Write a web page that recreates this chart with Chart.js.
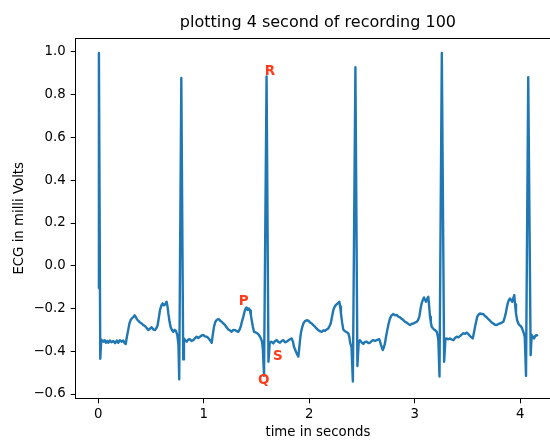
<!DOCTYPE html>
<html>
<head>
<meta charset="utf-8">
<script src="https://cdn.jsdelivr.net/npm/chart.js@4.4.0/dist/chart.umd.min.js"></script>
<style>
    html, body { margin: 0; padding: 0; background: #fff; overflow: hidden; }
    #wrap { width: 600px; height: 441px; }
</style>
</head>
<body>
<div id="wrap"><canvas id="ecgChart" width="600" height="441"></canvas></div>
<script>
const CHART_TITLE = 'plotting 4 second of recording 100';
const X_LABEL = 'time in seconds';
const Y_LABEL = 'ECG in milli Volts';

// [time in s, ECG in mV]
const ecgTrace = [
    [0.000, -0.106], [0.006, 0.995], [0.019, -0.435], [0.028, -0.345], [0.040, -0.352],
    [0.047, -0.355], [0.060, -0.348], [0.072, -0.360], [0.085, -0.352], [0.095, -0.360],
    [0.110, -0.350], [0.125, -0.358], [0.142, -0.352], [0.160, -0.362], [0.175, -0.350],
    [0.190, -0.360], [0.205, -0.348], [0.220, -0.355], [0.237, -0.350], [0.250, -0.362],
    [0.260, -0.366], [0.272, -0.330], [0.284, -0.300], [0.295, -0.270], [0.307, -0.254],
    [0.320, -0.245], [0.332, -0.240], [0.345, -0.232], [0.354, -0.238], [0.366, -0.250],
    [0.379, -0.257], [0.395, -0.265], [0.411, -0.270], [0.427, -0.278], [0.443, -0.282],
    [0.460, -0.292], [0.474, -0.301], [0.490, -0.294], [0.506, -0.288], [0.521, -0.298],
    [0.537, -0.301], [0.550, -0.292], [0.563, -0.277], [0.575, -0.240], [0.585, -0.207],
    [0.598, -0.185], [0.610, -0.176], [0.620, -0.185], [0.632, -0.182], [0.640, -0.175],
    [0.648, -0.168], [0.656, -0.190], [0.664, -0.223], [0.675, -0.260], [0.686, -0.288],
    [0.700, -0.302], [0.711, -0.309], [0.724, -0.300], [0.736, -0.305], [0.749, -0.324],
    [0.760, -0.370], [0.767, -0.531], [0.787, 0.878], [0.805, -0.438], [0.812, -0.340],

    [0.825, -0.350], [0.838, -0.355], [0.852, -0.345], [0.869, -0.344], [0.885, -0.352],
    [0.900, -0.348], [0.915, -0.340], [0.933, -0.332], [0.948, -0.338], [0.964, -0.332],
    [0.980, -0.326], [0.995, -0.324], [1.010, -0.330], [1.027, -0.332], [1.043, -0.338],
    [1.059, -0.348], [1.075, -0.360], [1.086, -0.320], [1.097, -0.285], [1.110, -0.262],
    [1.122, -0.254], [1.135, -0.250], [1.147, -0.251], [1.158, -0.258], [1.170, -0.262],
    [1.185, -0.270], [1.201, -0.277], [1.216, -0.288], [1.232, -0.298], [1.248, -0.302],
    [1.264, -0.309], [1.280, -0.300], [1.296, -0.301], [1.312, -0.306], [1.327, -0.309],
    [1.340, -0.298], [1.350, -0.285], [1.362, -0.260], [1.375, -0.238], [1.386, -0.215],
    [1.397, -0.199], [1.406, -0.195], [1.416, -0.207], [1.428, -0.200], [1.438, -0.210],
    [1.446, -0.230], [1.454, -0.254], [1.465, -0.285], [1.476, -0.309], [1.492, -0.312],
    [1.507, -0.316], [1.520, -0.322], [1.533, -0.332], [1.543, -0.342], [1.552, -0.355],
    [1.560, -0.390], [1.571, -0.515], [1.595, 0.886], [1.613, -0.449], [1.625, -0.360],

    [1.640, -0.355], [1.659, -0.363], [1.675, -0.352], [1.691, -0.348], [1.706, -0.356],
    [1.722, -0.360], [1.738, -0.352], [1.754, -0.348], [1.770, -0.358], [1.786, -0.355],
    [1.800, -0.350], [1.817, -0.344], [1.833, -0.340], [1.845, -0.355], [1.855, -0.379],
    [1.868, -0.395], [1.880, -0.410], [1.896, -0.425], [1.904, -0.390], [1.912, -0.348],
    [1.922, -0.310], [1.934, -0.285], [1.946, -0.268], [1.959, -0.259], [1.975, -0.255],
    [1.991, -0.257], [2.007, -0.265], [2.023, -0.270], [2.038, -0.278], [2.054, -0.285],
    [2.070, -0.294], [2.085, -0.301], [2.100, -0.306], [2.117, -0.309], [2.133, -0.302],
    [2.149, -0.305], [2.165, -0.298], [2.180, -0.293], [2.192, -0.282], [2.203, -0.270],
    [2.215, -0.240], [2.228, -0.207], [2.240, -0.192], [2.250, -0.184], [2.260, -0.180],
    [2.269, -0.176], [2.278, -0.172], [2.285, -0.168], [2.292, -0.190], [2.300, -0.223],
    [2.311, -0.265], [2.322, -0.298], [2.335, -0.305], [2.348, -0.309], [2.360, -0.312],
    [2.370, -0.316], [2.380, -0.335], [2.388, -0.362], [2.400, -0.380], [2.413, -0.542],
    [2.437, 0.929], [2.456, -0.469], [2.468, -0.360],

    [2.479, -0.348], [2.495, -0.358], [2.512, -0.366], [2.528, -0.356], [2.544, -0.355],
    [2.560, -0.362], [2.575, -0.360], [2.591, -0.352], [2.607, -0.348], [2.623, -0.352],
    [2.639, -0.348], [2.652, -0.345], [2.664, -0.344], [2.672, -0.358], [2.680, -0.371],
    [2.690, -0.385], [2.696, -0.394], [2.705, -0.385], [2.717, -0.363], [2.728, -0.330],
    [2.739, -0.301], [2.752, -0.270], [2.765, -0.246], [2.780, -0.232], [2.796, -0.226],
    [2.812, -0.232], [2.828, -0.230], [2.844, -0.238], [2.860, -0.241], [2.875, -0.248],
    [2.891, -0.254], [2.907, -0.262], [2.923, -0.266], [2.939, -0.272], [2.955, -0.277],
    [2.970, -0.272], [2.986, -0.270], [3.002, -0.266], [3.018, -0.262], [3.030, -0.255],
    [3.043, -0.238], [3.055, -0.200], [3.065, -0.176], [3.076, -0.160], [3.087, -0.148],
    [3.097, -0.160], [3.106, -0.168], [3.117, -0.155], [3.128, -0.145], [3.136, -0.190],
    [3.144, -0.238], [3.152, -0.265], [3.160, -0.285], [3.171, -0.292], [3.182, -0.298],
    [3.195, -0.302], [3.208, -0.309], [3.218, -0.330], [3.223, -0.348], [3.234, -0.518],
    [3.256, 0.995], [3.278, -0.449], [3.290, -0.345],

    [3.300, -0.340], [3.318, -0.344], [3.334, -0.340], [3.350, -0.345], [3.365, -0.348],
    [3.381, -0.338], [3.397, -0.332], [3.413, -0.335], [3.428, -0.329], [3.444, -0.322],
    [3.460, -0.316], [3.476, -0.318], [3.492, -0.313], [3.508, -0.320], [3.523, -0.329],
    [3.538, -0.335], [3.549, -0.340], [3.560, -0.315], [3.571, -0.285], [3.582, -0.260],
    [3.592, -0.238], [3.605, -0.228], [3.618, -0.223], [3.634, -0.226], [3.649, -0.226],
    [3.665, -0.235], [3.681, -0.241], [3.697, -0.250], [3.713, -0.257], [3.728, -0.265],
    [3.744, -0.270], [3.760, -0.276], [3.776, -0.277], [3.792, -0.272], [3.808, -0.270],
    [3.824, -0.266], [3.839, -0.262], [3.850, -0.245], [3.862, -0.223], [3.872, -0.195],
    [3.881, -0.176], [3.892, -0.160], [3.902, -0.153], [3.912, -0.160], [3.924, -0.168],
    [3.934, -0.150], [3.943, -0.137], [3.950, -0.180], [3.959, -0.223], [3.970, -0.255],
    [3.981, -0.270], [3.992, -0.278], [4.004, -0.282], [4.014, -0.290], [4.023, -0.301],
    [4.034, -0.318], [4.042, -0.332], [4.054, -0.516], [4.075, 0.882], [4.098, -0.418],
    [4.108, -0.324], [4.120, -0.335], [4.130, -0.340], [4.142, -0.328], [4.155, -0.324],
    [4.164, -0.330]
];

const xTicks = [0, 1, 2, 3, 4];
const yTicks = [-0.6, -0.4, -0.2, 0.0, 0.2, 0.4, 0.6, 0.8, 1.0];

// PQRS markers on the third beat
const waveLabels = ['R', 'P', 'Q', 'S'];
const waveLabelX = [1.627, 1.379, 1.568, 1.703];
const waveLabelY = [0.911, -0.167, -0.538, -0.423];

const FONT = '"DejaVu Sans", sans-serif';

document.addEventListener('DOMContentLoaded', function() {
    initEcgChart();
});

// title, top/right spines and the red wave letters
const extrasPlugin = {
    id: 'extras',
    afterDraw(chart) {
        const { ctx, chartArea, scales } = chart;
        ctx.save();

        ctx.strokeStyle = '#000';
        ctx.lineWidth = 1;
        ctx.beginPath();
        ctx.moveTo(chartArea.left, Math.round(chartArea.top) + 0.5);
        ctx.lineTo(chartArea.right, Math.round(chartArea.top) + 0.5);
        ctx.lineTo(chartArea.right, chartArea.bottom);
        ctx.stroke();

        ctx.fillStyle = '#000';
        ctx.font = '16px ' + FONT;
        ctx.textAlign = 'center';
        ctx.textBaseline = 'middle';
        ctx.fillText(CHART_TITLE, (chartArea.left + chartArea.right) / 2, 23);

        ctx.fillStyle = '#ff3b1a';
        ctx.font = 'bold 13.5px ' + FONT;
        waveLabels.forEach((txt, i) => {
            const px = scales.x.getPixelForValue(waveLabelX[i]);
            const py = scales.y.getPixelForValue(waveLabelY[i]);
            ctx.fillText(txt, px, py);
        });

        ctx.restore();
    }
};

function formatMinus(v) {
    return (v < 0 ? '\u2212' : '') + Math.abs(v).toFixed(1);
}

function initEcgChart() {
    const ctx = document.getElementById('ecgChart').getContext('2d');

    new Chart(ctx, {
        type: 'line',
        data: {
            datasets: [{
                label: 'ECG',
                data: ecgTrace.map(p => ({ x: p[0], y: p[1] })),
                borderColor: '#1f77b4',
                borderWidth: 2.4,
                borderJoinStyle: 'round',
                pointRadius: 0,
                tension: 0,
                fill: false
            }]
        },
        options: {
            responsive: false,
            animation: false,
            layout: {
                padding: { top: 38.3, right: 39.8, left: 0, bottom: 0 }
            },
            plugins: {
                legend: { display: false },
                tooltip: { enabled: false },
                title: { display: false }
            },
            scales: {
                x: {
                    type: 'linear',
                    min: -0.214,
                    max: 4.378,
                    afterBuildTicks: s => { s.ticks = xTicks.map(v => ({ value: v })); },
                    afterFit: s => { s.height = 42.7; },
                    ticks: {
                        color: '#000',
                        padding: 3,
                        maxRotation: 0,
                        autoSkip: false,
                        font: { family: FONT, size: 13.3 },
                        callback: v => String(v)
                    },
                    grid: {
                        drawOnChartArea: false,
                        drawTicks: true,
                        tickLength: 5,
                        color: '#000'
                    },
                    border: { display: true, color: '#000', width: 1 },
                    title: {
                        display: true,
                        text: X_LABEL,
                        color: '#000',
                        padding: { top: 0, bottom: 0 },
                        font: { family: FONT, size: 13.3 }
                    }
                },
                y: {
                    type: 'linear',
                    min: -0.62,
                    max: 1.064,
                    afterBuildTicks: s => { s.ticks = yTicks.map(v => ({ value: v })); },
                    afterFit: s => { s.width = 75.7; },
                    ticks: {
                        color: '#000',
                        padding: 5,
                        autoSkip: false,
                        font: { family: FONT, size: 13.3 },
                        callback: v => formatMinus(v)
                    },
                    grid: {
                        drawOnChartArea: false,
                        drawTicks: true,
                        tickLength: 5,
                        color: '#000'
                    },
                    border: { display: true, color: '#000', width: 1 },
                    title: {
                        display: true,
                        text: Y_LABEL,
                        color: '#000',
                        padding: { top: 11.5, bottom: 0 },
                        font: { family: FONT, size: 13.3 }
                    }
                }
            }
        },
        plugins: [extrasPlugin]
    });
}
</script>
</body>
</html>
